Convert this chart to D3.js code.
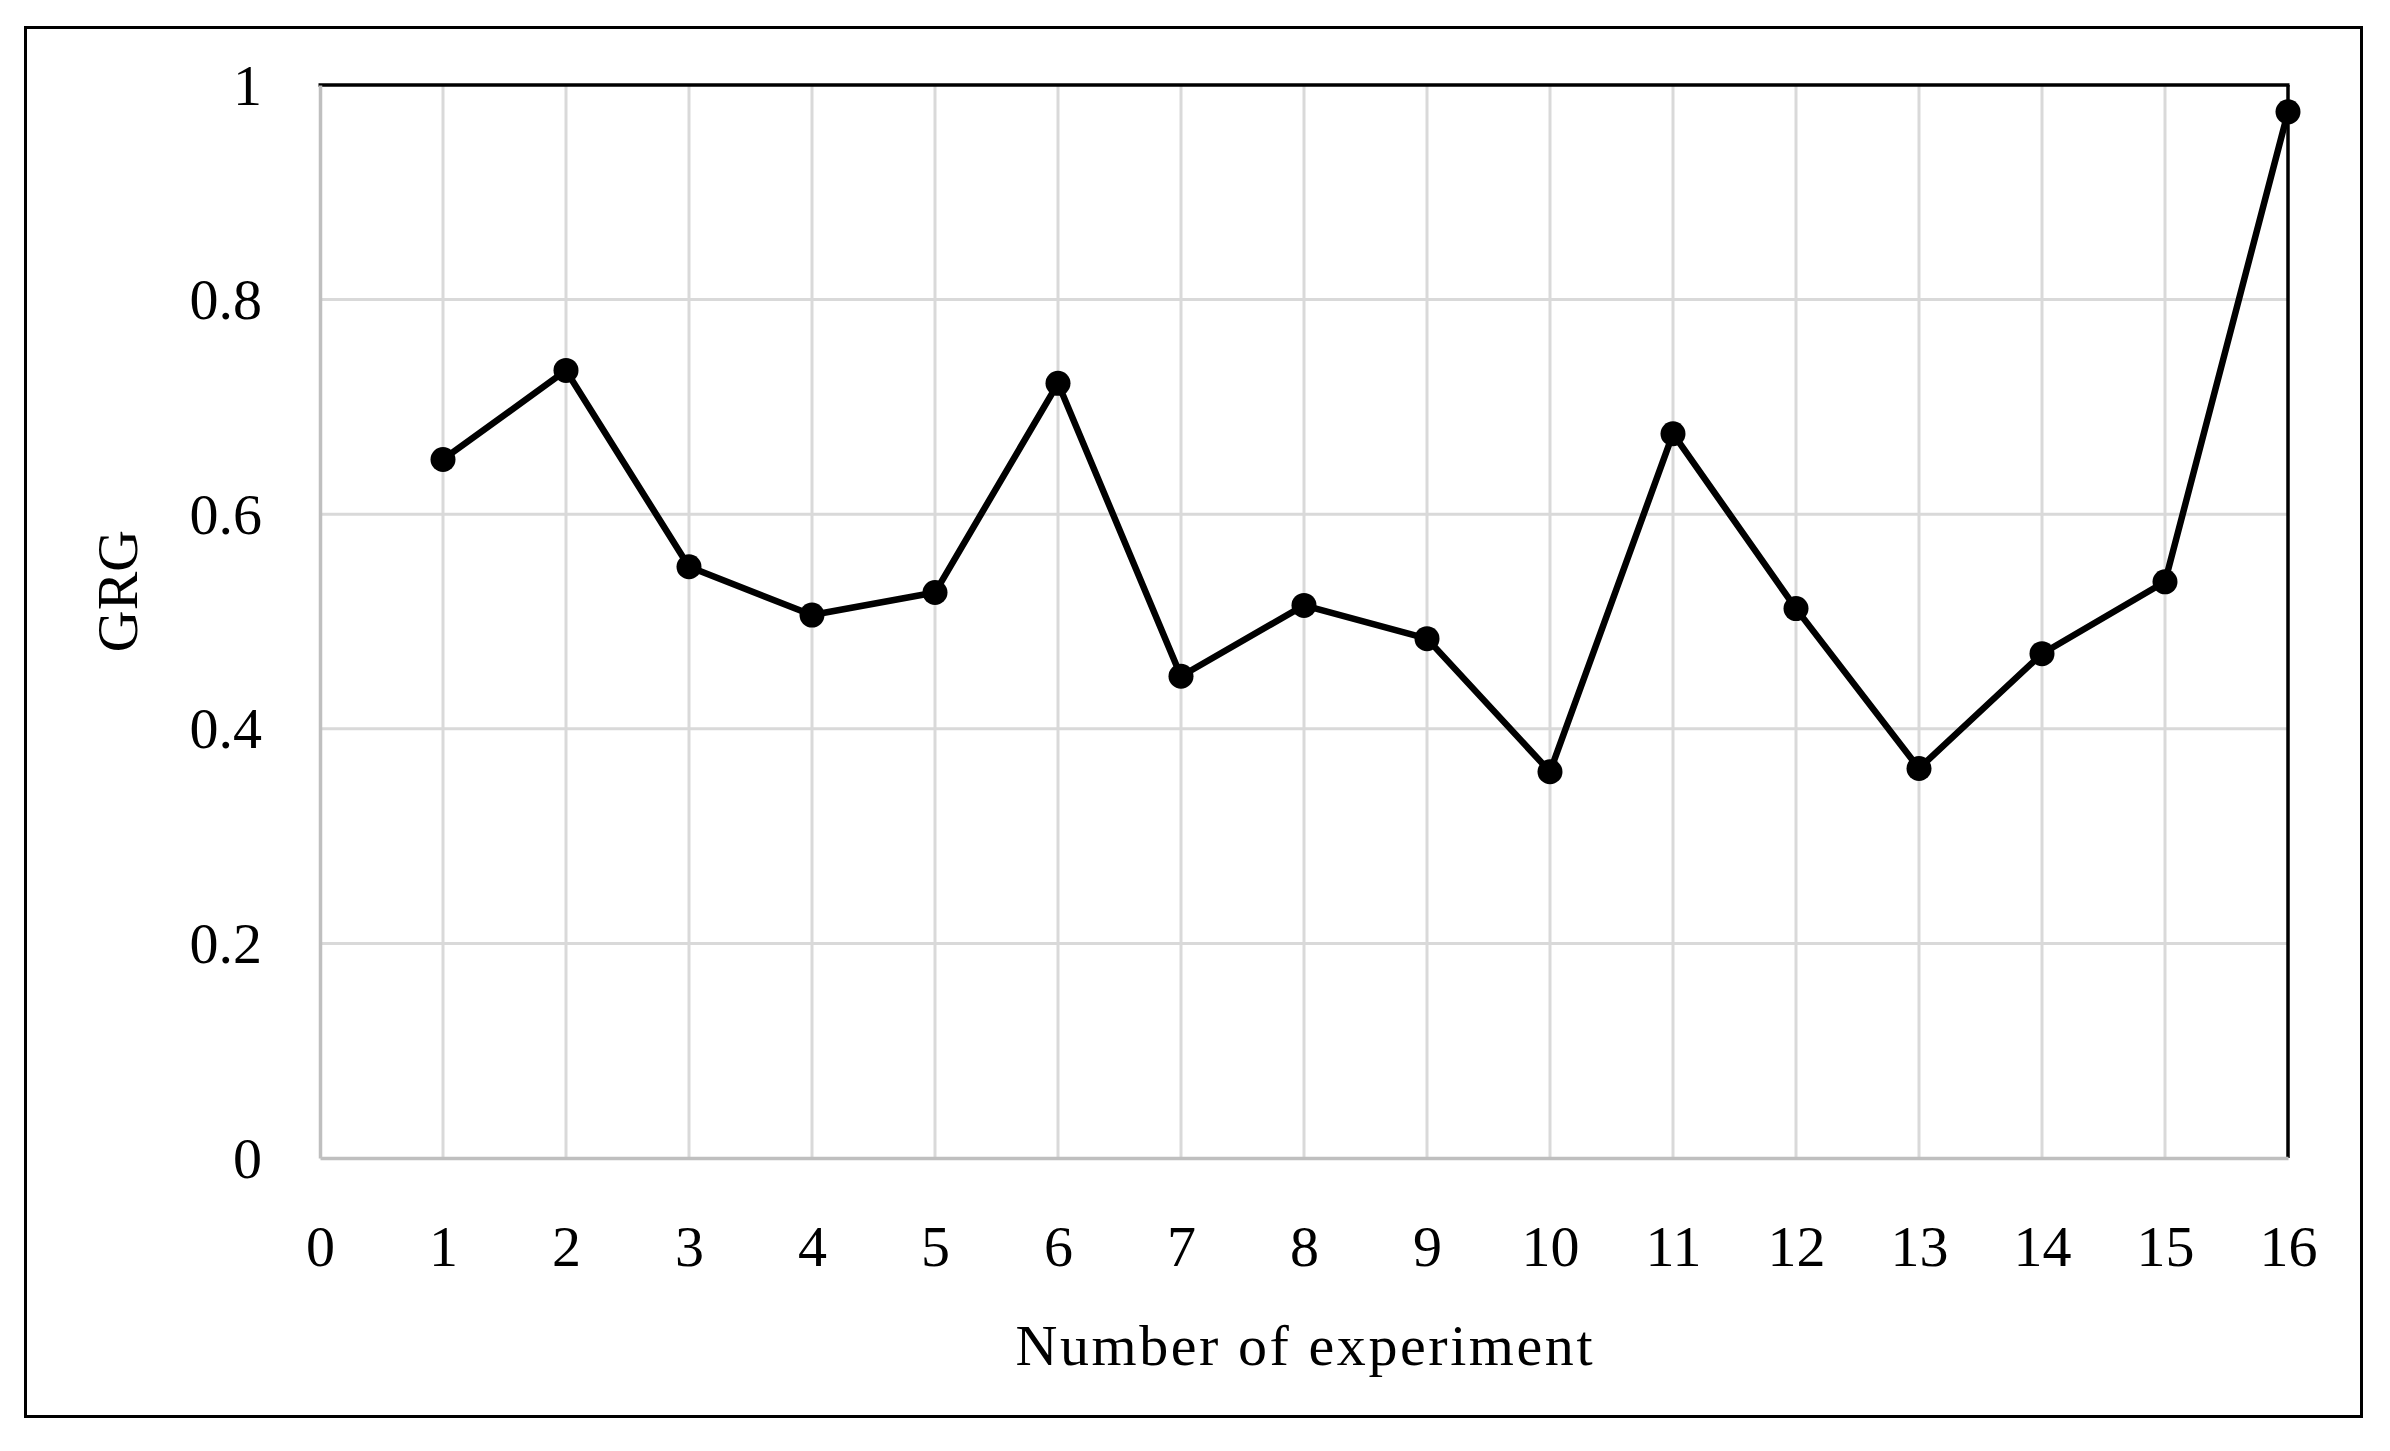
<!DOCTYPE html>
<html>
<head>
<meta charset="utf-8">
<script src="https://cdn.jsdelivr.net/npm/d3@7"></script>
<style>
  html, body { margin: 0; padding: 0; background: #fff; }
  svg { display: block; }
  text { font-family: "Liberation Serif", "DejaVu Serif", serif; fill: #000; }
</style>
</head>
<body>
<svg id="chart" width="2390" height="1451"></svg>
<script>
// ---- data ----
const experiments = [1, 2, 3, 4, 5, 6, 7, 8, 9, 10, 11, 12, 13, 14, 15, 16];
const grgValues = [0.651, 0.734, 0.551, 0.506, 0.527, 0.722, 0.449, 0.515, 0.484, 0.360, 0.675, 0.512, 0.363, 0.470, 0.537, 0.975];
const xTicks = [0, 1, 2, 3, 4, 5, 6, 7, 8, 9, 10, 11, 12, 13, 14, 15, 16];
const yTicks = [0, 0.2, 0.4, 0.6, 0.8, 1];
const yTickLabels = ["0", "0.2", "0.4", "0.6", "0.8", "1"];
const xTitle = "Number of experiment";
const yTitle = "GRG";

// ---- layout ----
const svg = d3.select("#chart");
const plot = { left: 320, right: 2288, top: 85, bottom: 1158 };

const x = d3.scaleLinear().domain([0, 16]).range([plot.left, plot.right]);
const y = d3.scaleLinear().domain([0, 1]).range([plot.bottom, plot.top]);

// outer frame
svg.append("rect")
  .attr("x", 25.5).attr("y", 27.5)
  .attr("width", 2336).attr("height", 1389)
  .attr("fill", "none").attr("stroke", "#000").attr("stroke-width", 3);

// gridlines
const grid = svg.append("g");
grid.selectAll("line.v").data(xTicks.filter(d => d > 0 && d < 16)).enter().append("line")
  .attr("x1", d => x(d)).attr("x2", d => x(d))
  .attr("y1", plot.top).attr("y2", plot.bottom)
  .attr("stroke", "#d9d9d9").attr("stroke-width", 3);
grid.selectAll("line.h").data(yTicks.filter(d => d > 0 && d < 1)).enter().append("line")
  .attr("x1", plot.left).attr("x2", plot.right)
  .attr("y1", d => y(d)).attr("y2", d => y(d))
  .attr("stroke", "#d9d9d9").attr("stroke-width", 3);

// plot area border: top & right black, left & bottom gray
svg.append("line").attr("x1", plot.left - 1.5).attr("x2", plot.right + 1.5)
  .attr("y1", plot.top).attr("y2", plot.top)
  .attr("stroke", "#000").attr("stroke-width", 3.5);
svg.append("line").attr("x1", plot.right).attr("x2", plot.right)
  .attr("y1", plot.top).attr("y2", plot.bottom)
  .attr("stroke", "#000").attr("stroke-width", 3.5);

// axes via d3
const yAxis = d3.axisLeft(y).tickValues(yTicks).tickSize(0).tickPadding(58)
  .tickFormat((d, i) => yTickLabels[i]);
const gy = svg.append("g").attr("transform", `translate(${plot.left},0)`).call(yAxis);
gy.select(".domain").attr("stroke", "#bfbfbf").attr("stroke-width", 3.5);
gy.selectAll("text").attr("font-size", 58).attr("font-family", "Liberation Serif")
  .attr("dy", "0.33em").attr("fill", "#000");

const xAxis = d3.axisBottom(x).tickValues(xTicks).tickSize(0).tickPadding(67)
  .tickFormat(d3.format("d"));
const gx = svg.append("g").attr("transform", `translate(0,${plot.bottom})`).call(xAxis);
gx.select(".domain").attr("stroke", "#bfbfbf").attr("stroke-width", 3.5);
gx.selectAll("text").attr("font-size", 58).attr("font-family", "Liberation Serif")
  .attr("dy", "0.71em").attr("fill", "#000");

// series line
const pts = experiments.map((e, i) => ({ e, v: grgValues[i] }));
svg.append("path").datum(pts)
  .attr("fill", "none").attr("stroke", "#000").attr("stroke-width", 6.5)
  .attr("stroke-linejoin", "round")
  .attr("d", d3.line().x(d => x(d.e)).y(d => y(d.v)));

svg.append("g").selectAll("circle").data(pts).enter().append("circle")
  .attr("cx", d => x(d.e)).attr("cy", d => y(d.v)).attr("r", 12.5)
  .attr("fill", "#000");

// titles
svg.append("text")
  .attr("x", (plot.left + plot.right) / 2).attr("y", 1365)
  .attr("text-anchor", "middle").attr("font-size", 58)
  .attr("textLength", 577).attr("lengthAdjust", "spacing")
  .text(xTitle);

svg.append("text")
  .attr("transform", "translate(137,591) rotate(-90)")
  .attr("text-anchor", "middle").attr("font-size", 58)
  .text(yTitle);
</script>
</body>
</html>
